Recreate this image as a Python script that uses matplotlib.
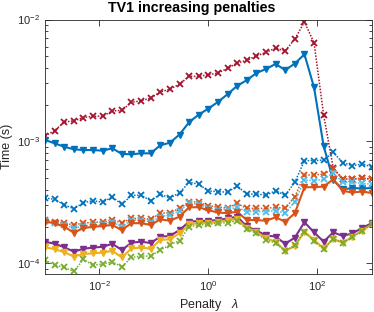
import numpy as np
import matplotlib
matplotlib.use("Agg")
import matplotlib.pyplot as plt
from matplotlib.ticker import LogLocator, LogFormatterSciNotation, NullLocator, NullFormatter

plt.rcParams['font.family'] = ['Liberation Sans', 'DejaVu Sans']
plt.rcParams['mathtext.fontset'] = 'custom'
plt.rcParams['mathtext.rm'] = 'Liberation Sans'
plt.rcParams['mathtext.it'] = 'Liberation Sans:italic'
plt.rcParams['mathtext.default'] = 'regular'

# Penalty values (35 log-spaced points from 1e-3 to 1e3)
penalty = np.logspace(-3, 3, 35)

red_dot = [1.11e-3, 1.23e-3, 1.44e-3, 1.48e-3, 1.57e-3, 1.61e-3, 1.61e-3, 1.78e-3, 1.80e-3, 2.09e-3,
           2.16e-3, 2.27e-3, 2.55e-3, 2.68e-3, 2.96e-3, 3.42e-3, 3.42e-3, 3.53e-3, 3.64e-3, 3.98e-3,
           4.40e-3, 4.63e-3, 5.02e-3, 5.38e-3, 5.83e-3, 5.52e-3, 6.92e-3, 9.55e-3, 6.46e-3, 1.65e-3,
           6.07e-4, 4.93e-4, 4.93e-4, 4.99e-4, 4.93e-4]
blue_solid = [1.03e-3, 9.66e-4, 9.06e-4, 8.63e-4, 8.51e-4, 8.51e-4, 8.41e-4, 8.79e-4, 7.91e-4, 7.85e-4,
              8.00e-4, 8.00e-4, 9.31e-4, 9.77e-4, 1.14e-3, 1.44e-3, 1.66e-3, 1.86e-3, 2.11e-3, 2.44e-3,
              2.86e-3, 3.18e-3, 3.64e-3, 3.93e-3, 4.32e-3, 3.85e-3, 4.35e-3, 5.19e-3, 2.78e-3, 9.18e-4,
              4.83e-4, 4.05e-4, 4.16e-4, 4.12e-4, 4.16e-4]
blue_dot = [3.44e-4, 3.36e-4, 3.03e-4, 2.81e-4, 3.15e-4, 3.27e-4, 3.18e-4, 3.51e-4, 3.05e-4, 3.62e-4,
            3.62e-4, 3.27e-4, 3.69e-4, 3.44e-4, 3.80e-4, 4.63e-4, 4.46e-4, 3.93e-4, 3.88e-4, 3.84e-4,
            4.32e-4, 3.69e-4, 3.72e-4, 3.62e-4, 3.95e-4, 3.62e-4, 4.63e-4, 6.97e-4, 6.97e-4, 7.05e-4,
            8.15e-4, 6.70e-4, 6.34e-4, 6.55e-4, 6.21e-4]
orange_dot = [2.27e-4, 2.20e-4, 2.14e-4, 2.07e-4, 2.14e-4, 2.18e-4, 2.18e-4, 2.27e-4, 2.16e-4, 2.34e-4,
              2.34e-4, 2.30e-4, 2.58e-4, 2.61e-4, 2.83e-4, 3.21e-4, 3.18e-4, 2.96e-4, 2.92e-4, 2.83e-4,
              3.11e-4, 2.83e-4, 2.83e-4, 2.83e-4, 2.89e-4, 2.83e-4, 3.53e-4, 5.31e-4, 5.31e-4, 5.42e-4,
              5.92e-4, 4.93e-4, 4.93e-4, 4.99e-4, 4.93e-4]
lightblue_dot = [2.24e-4, 2.16e-4, 2.07e-4, 1.95e-4, 2.03e-4, 2.07e-4, 2.09e-4, 2.20e-4, 2.00e-4, 2.27e-4,
                 2.27e-4, 2.20e-4, 2.42e-4, 2.50e-4, 2.71e-4, 3.11e-4, 3.08e-4, 2.83e-4, 2.75e-4, 2.78e-4,
                 2.89e-4, 2.66e-4, 2.66e-4, 2.66e-4, 2.71e-4, 2.58e-4, 3.21e-4, 4.83e-4, 4.77e-4, 4.90e-4,
                 5.55e-4, 4.63e-4, 4.63e-4, 4.54e-4, 4.46e-4]
orange_solid = [2.20e-4, 2.14e-4, 2.00e-4, 1.79e-4, 1.95e-4, 2.00e-4, 2.03e-4, 2.07e-4, 1.88e-4, 2.14e-4,
                2.14e-4, 2.07e-4, 2.30e-4, 2.24e-4, 2.42e-4, 2.89e-4, 2.89e-4, 2.73e-4, 2.62e-4, 2.58e-4,
                2.66e-4, 2.27e-4, 2.27e-4, 2.24e-4, 2.39e-4, 2.20e-4, 2.58e-4, 4.22e-4, 4.22e-4, 4.27e-4,
                4.90e-4, 3.93e-4, 3.82e-4, 3.89e-4, 3.78e-4]
purple_solid = [1.51e-4, 1.45e-4, 1.36e-4, 1.25e-4, 1.32e-4, 1.35e-4, 1.37e-4, 1.45e-4, 1.29e-4, 1.48e-4,
                1.51e-4, 1.47e-4, 1.66e-4, 1.68e-4, 1.88e-4, 2.20e-4, 2.23e-4, 2.24e-4, 2.27e-4, 2.34e-4,
                2.42e-4, 2.01e-4, 1.86e-4, 1.70e-4, 1.66e-4, 1.45e-4, 1.63e-4, 2.18e-4, 1.80e-4, 1.51e-4,
                1.80e-4, 1.68e-4, 1.77e-4, 1.95e-4, 2.14e-4]
yellow_solid = [1.36e-4, 1.31e-4, 1.24e-4, 1.14e-4, 1.20e-4, 1.21e-4, 1.23e-4, 1.27e-4, 1.12e-4, 1.33e-4,
                1.35e-4, 1.32e-4, 1.56e-4, 1.58e-4, 1.77e-4, 2.09e-4, 2.14e-4, 2.16e-4, 2.18e-4, 2.27e-4,
                2.30e-4, 1.96e-4, 1.82e-4, 1.61e-4, 1.51e-4, 1.27e-4, 1.39e-4, 1.82e-4, 1.56e-4, 1.33e-4,
                1.59e-4, 1.48e-4, 1.66e-4, 1.86e-4, 2.09e-4]
green_dot = [1.07e-4, 9.7e-5, 9.3e-5, 8.6e-5, 1.08e-4, 9.7e-5, 9.9e-5, 1.03e-4, 9.4e-5, 1.12e-4,
             1.15e-4, 1.15e-4, 1.29e-4, 1.42e-4, 1.54e-4, 2.00e-4, 2.07e-4, 2.09e-4, 2.14e-4, 2.16e-4,
             2.24e-4, 1.91e-4, 1.77e-4, 1.56e-4, 1.47e-4, 1.26e-4, 1.42e-4, 1.81e-4, 1.53e-4, 1.31e-4,
             1.58e-4, 1.48e-4, 1.64e-4, 1.86e-4, 2.09e-4]

C_BLUE = '#0072BD'
C_ORANGE = '#D95319'
C_YELLOW = '#EDB120'
C_PURPLE = '#7E2F8E'
C_GREEN = '#77AC30'
C_LBLUE = '#4DBEEE'
C_RED = '#A2142F'

fig = plt.figure(figsize=(3.74, 3.12), dpi=100)
ax = fig.add_axes([0.1203, 0.1218, 0.8735, 0.8157])

dot = (0, (1, 1))
xkw = dict(marker='x', markersize=3.8, markeredgewidth=1.3, linewidth=1.1, linestyle=dot)
vkw = dict(marker='v', markersize=4.8, linewidth=1.5, linestyle='-')

ax.plot(penalty, red_dot, color=C_RED, **xkw)
ax.plot(penalty, blue_solid, color=C_BLUE, **vkw)
ax.plot(penalty, blue_dot, color=C_BLUE, **xkw)
ax.plot(penalty, orange_dot, color=C_ORANGE, **xkw)
ax.plot(penalty, lightblue_dot, color=C_LBLUE, **xkw)
ax.plot(penalty, orange_solid, color=C_ORANGE, **vkw)
ax.plot(penalty, purple_solid, color=C_PURPLE, **vkw)
ax.plot(penalty, yellow_solid, color=C_YELLOW, **vkw)
ax.plot(penalty, green_dot, color=C_GREEN, **xkw)

ax.set_xscale('log')
ax.set_yscale('log')
ax.set_xlim(1e-3, 1e3)
ax.set_ylim(8.2e-5, 1e-2)

ax.xaxis.set_major_locator(matplotlib.ticker.FixedLocator([1e-2, 1e0, 1e2]))
ax.xaxis.set_major_formatter(LogFormatterSciNotation())
ax.xaxis.set_minor_locator(NullLocator())
ax.yaxis.set_major_locator(LogLocator(base=10, numticks=10))
ax.yaxis.set_minor_locator(LogLocator(base=10, subs=np.arange(2, 10), numticks=10))
ax.yaxis.set_minor_formatter(NullFormatter())

edge = '#262626'
for s in ax.spines.values():
    s.set_color(edge)
    s.set_linewidth(0.6)
ax.tick_params(which='both', direction='in', top=True, right=True, colors=edge,
               labelcolor='#262626', labelsize=8)
ax.tick_params(which='major', length=4, width=0.6)
ax.tick_params(which='minor', length=2, width=0.6)

fig.text(192 / 374, 1 - 8 / 312, 'TV1 increasing penalties', fontsize=10.3, fontweight='bold',
         color='black', ha='center', va='center')
ax.set_xlabel('Penalty   $\\mathit{\\lambda}$', fontsize=9, color='#262626', labelpad=3)
ax.set_ylabel('Time (s)', fontsize=9, color='#262626', labelpad=3)

fig.savefig('out.png', dpi=100)
